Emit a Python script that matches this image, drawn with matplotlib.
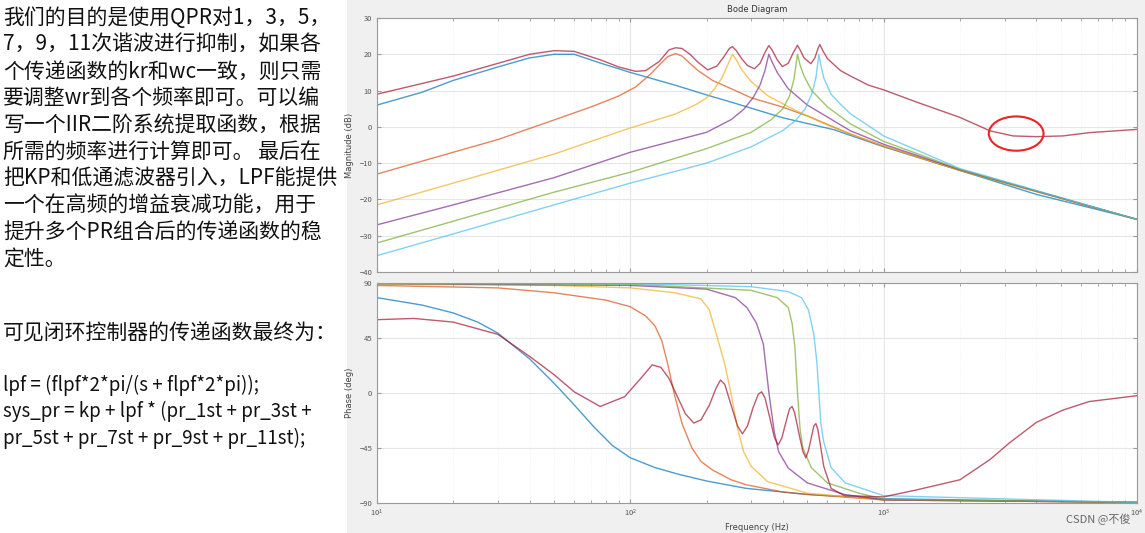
import matplotlib
matplotlib.use("Agg")
import matplotlib.pyplot as plt
from matplotlib.patches import Rectangle, Ellipse

plt.rcParams['font.family'] = ['Noto Sans CJK SC', 'DejaVu Sans']

# ---------------- data ----------------
blue_mag_f = [10, 15, 20, 30, 40, 50, 60, 76, 100, 150, 200, 256, 400, 637, 1000, 2000, 4000, 10000]
blue_mag = [6, 9.5, 12.8, 16.5, 19, 20, 20, 17.6, 15, 11.5, 8.8, 6.6, 2.5, -0.8, -5.5, -12, -18.6, -25.5]

orange_mag_f = [10, 20, 30, 50, 70, 90, 105, 120, 130, 140, 151, 160, 170, 185, 211, 256, 300, 393, 500, 740, 1000, 2000, 10000]
orange_mag = [-13, -7, -3.5, 1.9, 5.5, 8.5, 11, 14.5, 17, 19.3, 20.2, 19.5, 17.8, 15.5, 12.8, 10.2, 8, 5.6, 3, -2, -5.3, -12, -25.5]

yellow_mag_f = [10, 20, 50, 100, 150, 180, 200, 215, 230, 242, 253, 262, 275, 300, 350, 450, 600, 740, 1000, 2000, 10000]
yellow_mag = [-21.5, -15.5, -7.5, -0.3, 3.5, 6, 8, 10.5, 13.5, 17, 20, 18.5, 15.8, 12.5, 8.5, 4.5, 0.5, -2, -5.3, -12, -25.5]

purple_mag_f = [10, 20, 50, 100, 200, 250, 280, 305, 325, 340, 352, 362, 380, 420, 500, 740, 1000, 2000, 10000]
purple_mag = [-27, -21.5, -14, -7, -1.5, 2, 4.8, 8, 11.5, 15.5, 20, 18, 15, 10.5, 6, -1.1, -4.8, -11.8, -25.5]

green_mag_f = [10, 20, 50, 100, 200, 300, 360, 400, 425, 442, 457, 468, 485, 520, 600, 740, 1000, 2000, 10000]
green_mag = [-32, -26, -18, -12.5, -6, -1.5, 2, 5, 8.5, 13, 20, 17, 14, 10, 5.5, 0.8, -4, -11.7, -25.5]

cyan_mag_f = [10, 20, 50, 100, 200, 300, 400, 450, 490, 520, 540, 555, 565, 580, 620, 680, 740, 1000, 2000, 10000]
cyan_mag = [-35.5, -29.5, -21.5, -15.5, -10, -5.5, -1, 1.8, 5, 9, 13.5, 20, 17, 13.5, 9, 6, 3.6, -2.5, -11.5, -25.5]

red_mag_f = [10, 20, 30, 40, 50, 60, 76, 90, 105, 115, 130, 142, 151, 160, 172, 185, 202, 220, 235, 246, 253,
             262, 275, 290, 309, 325, 340, 352, 362, 380, 398, 420, 440, 457, 468, 485, 516, 535, 550, 560,
             575, 600, 676, 740, 870, 1000, 1340, 2000, 2630, 3240, 4010, 5100, 6470, 10000]
red_mag = [9, 14, 17.5, 20, 21, 20.8, 18.5, 16.5, 15.3, 15.5, 18, 21.2, 21.8, 21.6, 20, 17.8, 15.7, 16.8, 19.5, 21.6, 22.1,
           21, 18.8, 16.9, 16, 17.5, 20.5, 22.4, 21.3, 18.5, 16.6, 17.5, 20.5, 22.5, 21.2, 19, 17.4, 19, 21.5, 22.7,
           21, 18.8, 15.5, 14, 11.5, 10.2, 6.9, 2.6, -1.1, -2.5, -2.7, -2.5, -1.6, -0.7]

blue_ph_f = [10, 15, 20, 25, 30, 40, 50, 59, 72, 85, 100, 125, 155, 200, 286, 500, 1000, 10000]
blue_ph = [78, 72, 65.5, 58, 49, 28, 8, -8, -28, -43, -53, -61, -66.5, -72, -78, -83, -86.5, -89.5]

orange_ph_f = [10, 30, 50, 80, 100, 115, 125, 133, 140, 150, 160, 175, 190, 211, 250, 286, 400, 500, 1000, 10000]
orange_ph = [88, 86, 82, 76, 70.6, 63, 55, 43, 25, -3, -25, -45, -56, -63, -71, -75, -81, -83, -87.5, -89.5]

yellow_ph_f = [10, 50, 100, 150, 190, 205, 220, 235, 249, 265, 280, 300, 348, 500, 1000, 10000]
yellow_ph = [89, 88, 86, 82, 77, 68, 46, 25, 1, -29, -48, -60, -72.5, -82, -87.5, -89.5]

purple_ph_f = [10, 100, 200, 260, 289, 315, 335, 352, 370, 385, 420, 500, 700, 1000, 10000]
purple_ph = [89.5, 88, 85, 78, 69.7, 57, 40, 1, -32, -48, -61.4, -73.6, -83, -87.5, -89.5]

green_ph_f = [10, 100, 300, 380, 420, 435, 446, 457, 468, 480, 518, 600, 800, 1000, 10000]
green_ph = [89.5, 89, 84, 78, 70, 57, 38, 0, -30, -45, -61, -73.6, -82, -87, -89.5]

cyan_ph_f = [10, 100, 300, 420, 474, 505, 530, 545, 555, 565, 580, 620, 706, 1000, 10000]
cyan_ph = [89.7, 89.5, 87, 83, 78, 68, 48, 25, 0, -25, -40, -61, -73.6, -84, -89.5]

red_ph_f = [10, 14, 20, 30, 40, 50, 60, 76, 95, 110, 122, 132, 142, 155, 165, 178, 190, 205, 218, 227, 236,
            250, 265, 277, 290, 305, 320, 330, 340, 355, 370, 383, 396, 410, 425, 435, 445, 465, 480, 493,
            505, 520, 530, 540, 550, 565, 580, 620, 700, 1000, 1340, 2000, 2630, 3150, 4010, 5100, 6470, 10000]
red_ph = [60, 61, 58, 48, 30, 15, 1, -11, -3, 12, 23, 21, 12, -5, -17, -24.6, -22, -10, 4, 10.6, 7,
          -10, -27, -33.4, -27, -12, -1, 1, -4, -20, -36, -42.5, -37, -25, -13, -11, -16, -35, -48, -53,
          -47, -35, -27, -25, -30, -45, -60, -78, -84, -85, -79.4, -71, -54.4, -40.5, -24, -14, -7, -2.2]

mag_ticks = [-40, -30, -20, -10, 0, 10, 20, 30]
ph_ticks = [-90, -45, 0, 45, 90]

colors = ['#0072BD', '#D95319', '#EDB120', '#7E2F8E', '#77AC30', '#4DBEEE', '#A2142F']
mag_series = [(blue_mag_f, blue_mag), (orange_mag_f, orange_mag), (yellow_mag_f, yellow_mag),
              (purple_mag_f, purple_mag), (green_mag_f, green_mag), (cyan_mag_f, cyan_mag),
              (red_mag_f, red_mag)]
ph_series = [(blue_ph_f, blue_ph), (orange_ph_f, orange_ph), (yellow_ph_f, yellow_ph),
             (purple_ph_f, purple_ph), (green_ph_f, green_ph), (cyan_ph_f, cyan_ph),
             (red_ph_f, red_ph)]

left_lines = [
    "我们的目的是使用QPR对1，3，5，",
    "7，9，11次谐波进行抑制，如果各",
    "个传递函数的kr和wc一致，则只需",
    "要调整wr到各个频率即可。可以编",
    "写一个IIR二阶系统提取函数，根据",
    "所需的频率进行计算即可。 最后在",
    "把KP和低通滤波器引入，LPF能提供",
    "一个在高频的增益衰减功能，用于",
    "提升多个PR组合后的传递函数的稳",
    "定性。",
]
code_lines = [
    "lpf = (flpf*2*pi/(s + flpf*2*pi));",
    "sys_pr = kp + lpf * (pr_1st + pr_3st +",
    "pr_5st + pr_7st + pr_9st + pr_11st);",
]

# ---------------- figure ----------------
W, H = 1145, 533
fig = plt.figure(figsize=(W / 100, H / 100), dpi=100)
fig.patch.set_facecolor('white')
fig.add_artist(Rectangle((347 / W, 0), 1 - 347 / W, 1, transform=fig.transFigure,
                         facecolor='#f0f0f0', edgecolor='none', zorder=0))

for i, t in enumerate(left_lines):
    y = 18 + i * 26.8
    fig.text(3 / W, 1 - y / H, t, fontsize=15, va='center', ha='left', color='#111111')
fig.text(3 / W, 1 - 333 / H, "可见闭环控制器的传递函数最终为：", fontsize=15, va='center', ha='left', color='#111111')
for i, t in enumerate(code_lines):
    y = 385 + i * 26.5
    fig.text(3 / W, 1 - y / H, t, fontsize=13.5, va='center', ha='left', color='#111111')

ax1 = fig.add_axes([377 / W, (H - 272) / H, 760 / W, 254 / H])
ax2 = fig.add_axes([377 / W, (H - 503) / H, 760 / W, 220 / H])

for ax in (ax1, ax2):
    ax.set_xscale('log')
    ax.set_xlim(10, 10000)
    ax.set_facecolor('white')
    ax.grid(True, which='major', color='#e6e6e6', lw=0.8)
    ax.grid(True, which='minor', color='#f0f0f0', lw=0.6, ls=':')
    for s in ax.spines.values():
        s.set_color('#9a9a9a')
        s.set_linewidth(0.8)
    ax.tick_params(which='both', direction='in', top=True, right=True, colors='#9a9a9a',
                   labelsize=5.5, labelcolor='#555555', length=3)
    ax.tick_params(which='minor', length=2)

for (f, v), c in zip(mag_series, colors):
    ax1.plot(f, v, color=c, lw=1.0, alpha=0.7)
for (f, v), c in zip(ph_series, colors):
    ax2.plot(f, v, color=c, lw=1.0, alpha=0.7)

ax1.set_ylim(-40, 30)
ax1.set_yticks(mag_ticks)
ax1.tick_params(labelbottom=False)
ax1.set_ylabel("Magnitude (dB)", fontsize=6, color='#444444', family='DejaVu Sans')
ax1.set_title("Bode Diagram", fontsize=6, color='#333333', family='DejaVu Sans', pad=4)

ax2.set_ylim(-90, 90)
ax2.set_yticks(ph_ticks)
ax2.set_ylabel("Phase (deg)", fontsize=6, color='#444444', family='DejaVu Sans')
ax2.set_xlabel("Frequency (Hz)", fontsize=6, color='#444444', family='DejaVu Sans', labelpad=3)

ax1.add_patch(Ellipse((0.841, 0.545), 0.072, 0.135, transform=ax1.transAxes,
                      fill=False, edgecolor='#ee2222', lw=1.5, zorder=5))

fig.text(1130 / W, 1 - 519 / H, "CSDN @不俊", fontsize=8, ha='right', va='center', color='#666666')

fig.savefig("out.png", dpi=100)
